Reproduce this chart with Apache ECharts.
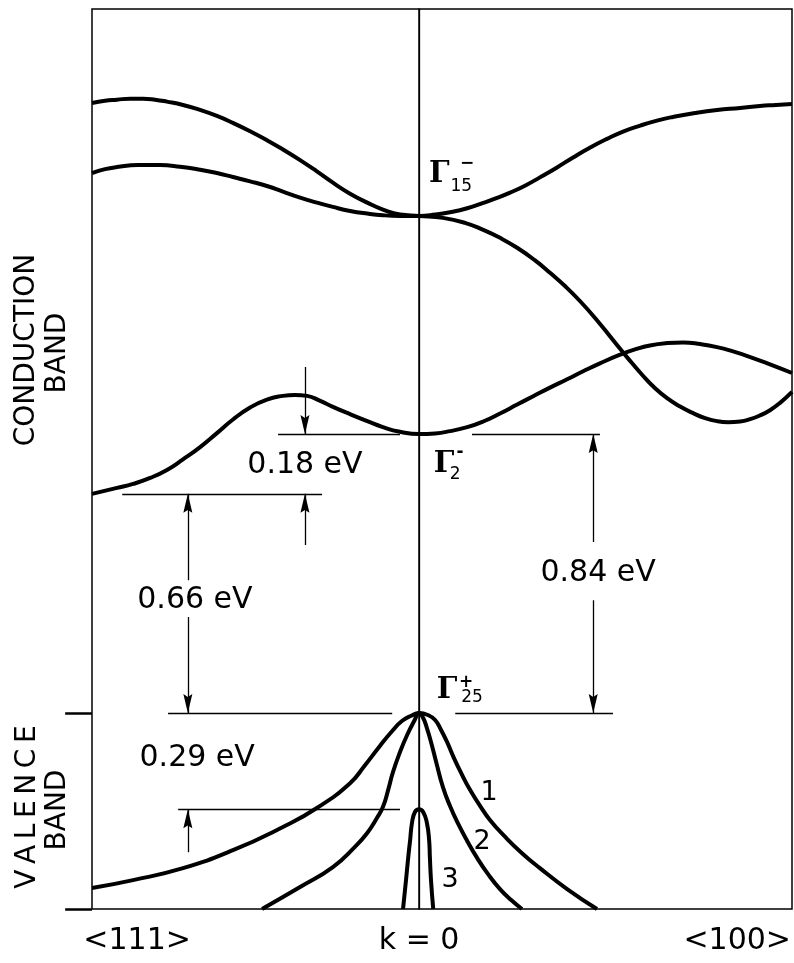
<!DOCTYPE html>
<html>
<head>
<meta charset="utf-8">
<script src="https://cdn.jsdelivr.net/npm/echarts@6/dist/echarts.min.js"></script>
<style>
  html, body { margin: 0; padding: 0; background: #fff; }
  #chart { width: 794px; height: 963px; }
</style>
</head>
<body>
<div id="chart"></div>
<script>
// Energy levels (eV, measured from the top of the valence band)
const E_TOP = 0;        // Γ25+
const E_GAMMA2 = 0.84;  // Γ2-
const E_L = 0.66;       // conduction-band minimum along <111>
const E_SO = -0.29;     // split-off band maximum

// Wave vector: negative side runs along <111>, positive side along <100>
const K_MIN = -0.877, K_MAX = 1.0;
const E_MIN = -0.59, E_MAX = 2.12;

// Conduction bands meeting at Γ15- : [k, E]
const gamma15Falling = [
  [-0.877, 1.837], [-0.842, 1.844], [-0.810, 1.847], [-0.775, 1.850], [-0.740, 1.850],
  [-0.708, 1.847], [-0.676, 1.841], [-0.633, 1.831], [-0.587, 1.816], [-0.542, 1.798],
  [-0.499, 1.777], [-0.453, 1.752], [-0.408, 1.725], [-0.365, 1.697], [-0.319, 1.665],
  [-0.274, 1.631], [-0.231, 1.597], [-0.185, 1.564], [-0.139, 1.537], [-0.097, 1.516],
  [-0.051, 1.501], [0, 1.497], [0.064, 1.491], [0.123, 1.476], [0.172, 1.455],
  [0.217, 1.431], [0.263, 1.401], [0.311, 1.363], [0.351, 1.326], [0.392, 1.285],
  [0.432, 1.240], [0.477, 1.183], [0.520, 1.123], [0.558, 1.071], [0.601, 1.015],
  [0.633, 0.978], [0.665, 0.948], [0.700, 0.923], [0.735, 0.903], [0.767, 0.888],
  [0.799, 0.879], [0.829, 0.876], [0.861, 0.878], [0.888, 0.885], [0.914, 0.896],
  [0.941, 0.912], [0.968, 0.934], [1.0, 0.967]
];
const gamma15Rising = [
  [-0.877, 1.626], [-0.842, 1.638], [-0.810, 1.644], [-0.754, 1.650], [-0.695, 1.650],
  [-0.641, 1.645], [-0.587, 1.636], [-0.542, 1.626], [-0.499, 1.614], [-0.453, 1.601],
  [-0.408, 1.587], [-0.365, 1.570], [-0.319, 1.552], [-0.274, 1.537], [-0.231, 1.524],
  [-0.185, 1.512], [-0.139, 1.504], [-0.097, 1.499], [-0.051, 1.497], [0, 1.497],
  [0.043, 1.501], [0.083, 1.508], [0.129, 1.520], [0.172, 1.536], [0.209, 1.551],
  [0.244, 1.567], [0.284, 1.588], [0.324, 1.613], [0.370, 1.643], [0.413, 1.673],
  [0.459, 1.703], [0.504, 1.729], [0.547, 1.751], [0.593, 1.769], [0.638, 1.784],
  [0.681, 1.795], [0.740, 1.807], [0.799, 1.816], [0.861, 1.822], [0.914, 1.828],
  [0.957, 1.831], [1.0, 1.834]
];
// Lowest conduction band through Γ2-
const gamma2Band = [
  [-0.877, 0.660], [-0.810, 0.678], [-0.767, 0.690], [-0.721, 0.708], [-0.676, 0.732],
  [-0.633, 0.764], [-0.587, 0.801], [-0.542, 0.843], [-0.499, 0.884], [-0.453, 0.920],
  [-0.408, 0.944], [-0.365, 0.955], [-0.333, 0.958], [-0.300, 0.955], [-0.265, 0.940],
  [-0.231, 0.922], [-0.185, 0.900], [-0.139, 0.879], [-0.097, 0.861], [-0.051, 0.847],
  [0, 0.840], [0.043, 0.842], [0.083, 0.849], [0.129, 0.861], [0.172, 0.878],
  [0.217, 0.902], [0.263, 0.929], [0.306, 0.954], [0.351, 0.980], [0.397, 1.005],
  [0.440, 1.029], [0.485, 1.053], [0.539, 1.079], [0.579, 1.095], [0.619, 1.107],
  [0.665, 1.114], [0.708, 1.116], [0.754, 1.111], [0.799, 1.102], [0.842, 1.089],
  [0.888, 1.072], [0.941, 1.050], [1.0, 1.024]
];
// Valence bands: 1 heavy holes, 2 light holes, 3 split-off
const valence1 = [
  [-0.877, -0.527], [-0.767, -0.503], [-0.633, -0.467], [-0.499, -0.413], [-0.365, -0.343],
  [-0.274, -0.286], [-0.185, -0.211], [-0.145, -0.157], [-0.105, -0.099], [-0.072, -0.054],
  [-0.046, -0.024], [-0.021, -0.008], [0, 0], [0.024, -0.006], [0.043, -0.021],
  [0.059, -0.051], [0.075, -0.087], [0.091, -0.129], [0.113, -0.181], [0.137, -0.232],
  [0.164, -0.280], [0.190, -0.322], [0.231, -0.373], [0.276, -0.422], [0.324, -0.467],
  [0.397, -0.530], [0.477, -0.590]
];
const valence2 = [
  [-0.421, -0.590], [-0.319, -0.524], [-0.231, -0.464], [-0.172, -0.403], [-0.139, -0.361],
  [-0.113, -0.316], [-0.097, -0.283], [-0.083, -0.232], [-0.070, -0.178], [-0.051, -0.117],
  [-0.032, -0.066], [-0.013, -0.024], [0, 0], [0.011, -0.015], [0.021, -0.045],
  [0.032, -0.087], [0.046, -0.148], [0.064, -0.223], [0.083, -0.280], [0.105, -0.334],
  [0.129, -0.385], [0.156, -0.437], [0.185, -0.485], [0.217, -0.530], [0.247, -0.563],
  [0.276, -0.590]
];
const valence3 = [
  [-0.043, -0.590], [-0.035, -0.503], [-0.029, -0.434], [-0.024, -0.383], [-0.019, -0.331],
  [-0.011, -0.298], [0, -0.290], [0.011, -0.298], [0.021, -0.331], [0.027, -0.383],
  [0.029, -0.434], [0.032, -0.503], [0.038, -0.590]
];

// Reference levels and dimension arrows
const levelLines = [
  [[-0.378, E_GAMMA2], [-0.051, E_GAMMA2]],
  [[0.142, E_GAMMA2], [0.485, E_GAMMA2]],
  [[-0.796, E_L], [-0.260, E_L]],
  [[-0.673, E_TOP], [-0.072, E_TOP]],
  [[0.097, E_TOP], [0.520, E_TOP]],
  [[-0.646, E_SO], [-0.051, E_SO]],
  [[0, E_MIN], [0, E_MAX]]
];
const arrowShafts = [
  [[-0.306, 1.042], [-0.306, E_GAMMA2]],
  [[-0.306, 0.506], [-0.306, E_L]],
  [[-0.620, 0.400], [-0.620, E_L]],
  [[-0.620, 0.289], [-0.620, E_TOP]],
  [[0.467, 0.515], [0.467, E_GAMMA2]],
  [[0.467, 0.340], [0.467, E_TOP]],
  [[-0.620, -0.419], [-0.620, E_SO]]
];
const arrowsUp = [[-0.306, E_L], [-0.620, E_L], [0.467, E_GAMMA2], [-0.620, E_SO]];
const arrowsDown = [[-0.306, E_GAMMA2], [-0.620, E_TOP], [0.467, E_TOP]];

// Short energy ticks left of the frame
const eTickValues = [E_TOP, E_MIN];
const TICK_LEN = 0.072;

// Text annotations
const gapLabels = [
  { name: '0.18 eV', value: [-0.306, 0.747] },
  { name: '0.66 eV', value: [-0.601, 0.340] },
  { name: '0.84 eV', value: [0.480, 0.422] },
  { name: '0.29 eV', value: [-0.595, -0.136] }
];
const gammaSymbols = [
  { name: 'Γ', value: [0.054, 1.623] },
  { name: 'Γ', value: [0.067, 0.750] },
  { name: 'Γ', value: [0.075, 0.069] }
];
const gammaIndices = [
  { name: '15', value: [0.113, 1.584] },
  { name: '2', value: [0.097, 0.717] },
  { name: '25', value: [0.142, 0.046] }
];
const gammaParity = [
  { name: '−', value: [0.129, 1.655] },
  { name: '-', value: [0.110, 0.785] },
  { name: '+', value: [0.126, 0.092] }
];
const bandNumbers = [
  { name: '1', value: [0.188, -0.241] },
  { name: '2', value: [0.169, -0.388] },
  { name: '3', value: [0.083, -0.503] }
];

const kTickValues = [-0.756, 0, 0.853];
const kTickLabels = ['<111>', 'k = 0', '<100>'];

const INK = '#000';
const SANS = 'DejaVu Sans';

function band(name, data) {
  return {
    name, type: 'line', data, smooth: 0.5, showSymbol: false, silent: true,
    lineStyle: { color: INK, width: 4 }, z: 5
  };
}
function textLayer(name, data, fontSize, family, extra) {
  return {
    name, type: 'scatter', data, symbol: 'circle', symbolSize: 1, silent: true,
    itemStyle: { color: 'transparent', opacity: 1 }, z: 6,
    label: Object.assign({
      show: true, position: 'inside', formatter: '{b}', color: INK, opacity: 1,
      textBorderWidth: 0, fontSize, fontFamily: family
    }, extra || {})
  };
}
const ARROW = 'path://M5,0 L10,20 L5,17 L0,20 Z';

const chart = echarts.init(document.getElementById('chart'), null, { renderer: 'canvas' });
chart.setOption({
  animation: false,
  backgroundColor: '#fff',
  grid: {
    left: 92, top: 9, width: 700, height: 900, show: true,
    borderColor: INK, borderWidth: 1.5, backgroundColor: 'transparent',
    outerBoundsMode: 'none'
  },
  xAxis: {
    type: 'value', min: K_MIN, max: K_MAX,
    axisLine: { show: false }, axisTick: { show: false }, splitLine: { show: false },
    axisLabel: {
      customValues: kTickValues,
      formatter: v => {
        const i = kTickValues.findIndex(t => Math.abs(t - v) < 1e-6);
        return i >= 0 ? kTickLabels[i] : '';
      },
      color: INK, fontSize: 30, fontFamily: SANS, margin: 17
    }
  },
  yAxis: {
    type: 'value', min: E_MIN, max: E_MAX,
    axisLine: { show: true, lineStyle: { color: INK, width: 1.5 } },
    axisTick: { show: false },
    axisLabel: { show: false },
    splitLine: { show: false }
  },
  graphic: [
    { type: 'text', x: 27, y: 350, rotation: Math.PI / 2,
      style: { text: 'CONDUCTION', font: '28px "DejaVu Sans"', fill: INK, align: 'center', verticalAlign: 'middle' } },
    { type: 'text', x: 58, y: 353, rotation: Math.PI / 2,
      style: { text: 'BAND', font: '28px "DejaVu Sans"', fill: INK, align: 'center', verticalAlign: 'middle' } },
    { type: 'text', x: 28, y: 807, rotation: Math.PI / 2,
      style: { text: 'V\u2009A\u2009L\u2009E\u2009N\u2009C\u2009E', font: '28px "DejaVu Sans"', fill: INK, align: 'center', verticalAlign: 'middle' } },
    { type: 'text', x: 58, y: 810, rotation: Math.PI / 2,
      style: { text: 'BAND', font: '28px "DejaVu Sans"', fill: INK, align: 'center', verticalAlign: 'middle' } }
  ],
  series: [
    band('Γ15 falling', gamma15Falling),
    band('Γ15 rising', gamma15Rising),
    band('Γ2 band', gamma2Band),
    band('valence 1', valence1),
    band('valence 2', valence2),
    band('valence 3', valence3),
    {
      name: 'levels', type: 'lines', coordinateSystem: 'cartesian2d', silent: true,
      data: levelLines.concat(arrowShafts).map(c => ({ coords: c })),
      lineStyle: { color: INK, width: 1.3, opacity: 1 }, z: 3
    },
    {
      name: 'energy ticks', type: 'lines', coordinateSystem: 'cartesian2d', silent: true, clip: false,
      data: eTickValues.map(e => ({ coords: [[K_MIN - TICK_LEN, e], [K_MIN, e]] })),
      lineStyle: { color: INK, width: 2.5, opacity: 1 }, z: 3
    },
    {
      name: 'arrows up', type: 'scatter', data: arrowsUp, silent: true,
      symbol: ARROW, symbolSize: [9, 19], symbolOffset: [0, 9.5],
      itemStyle: { color: INK, opacity: 1 }, z: 4
    },
    {
      name: 'arrows down', type: 'scatter', data: arrowsDown, silent: true,
      symbol: ARROW, symbolSize: [9, 19], symbolRotate: 180, symbolOffset: [0, -9.5],
      itemStyle: { color: INK, opacity: 1 }, z: 4
    },
    textLayer('gap labels', gapLabels, 30, SANS),
    textLayer('gamma', gammaSymbols, 29, 'DejaVu Serif', { fontWeight: 'bold' }),
    textLayer('gamma index', gammaIndices, 17, SANS),
    textLayer('gamma parity', gammaParity, 17, SANS, { fontWeight: 'bold' }),
    textLayer('band numbers', bandNumbers, 27, SANS)
  ]
});
</script>
</body>
</html>
